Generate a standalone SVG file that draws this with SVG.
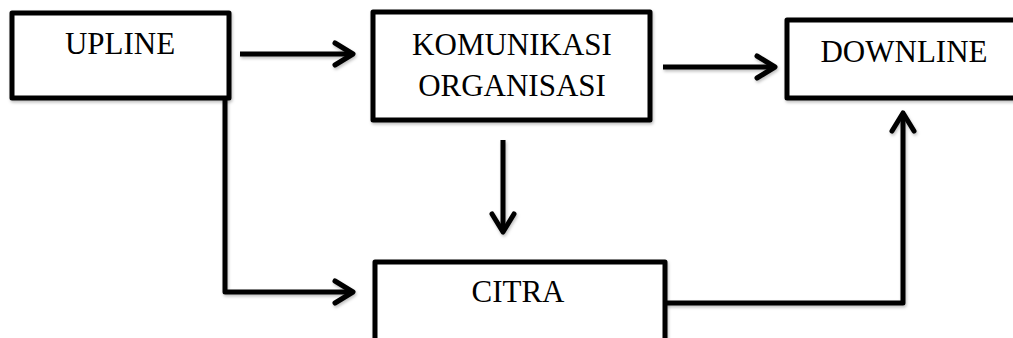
<svg xmlns="http://www.w3.org/2000/svg" width="1013" height="338" viewBox="0 0 1013 338">
  <style>
    .box { fill: #ffffff; stroke: #000000; stroke-width: 5; stroke-linejoin: round; }
    .lbl { font-family: "Liberation Serif", "Times New Roman", serif; font-size: 31px; fill: #000000; text-anchor: middle; }
    .conn { fill: none; stroke: #000000; stroke-width: 5; stroke-linejoin: round; }
  </style>
  <defs>
    <filter id="shadow" x="-10%" y="-10%" width="130%" height="140%">
      <feDropShadow dx="1" dy="2" stdDeviation="1.5" flood-color="#000000" flood-opacity="0.25"/>
    </filter>
    <marker id="chev" markerUnits="userSpaceOnUse" markerWidth="30" markerHeight="30" viewBox="-22 -15 30 30" refX="0" refY="0" orient="auto" overflow="visible">
      <path d="M-18,-11 L0,0 L-18,11" fill="none" stroke="#000000" stroke-width="5" stroke-linecap="round" stroke-linejoin="round"/>
    </marker>
  </defs>
  <rect width="1013" height="338" fill="#ffffff"/>

  <g id="connectors" filter="url(#shadow)">
    <path class="conn" d="M240,54 H353" marker-end="url(#chev)"/>
    <path class="conn" d="M663,67 H775" marker-end="url(#chev)"/>
    <path class="conn" d="M503,140 V232" marker-end="url(#chev)"/>
    <path class="conn" d="M225,98 V292 H353" marker-end="url(#chev)"/>
    <path class="conn" d="M665,303 H903 V113" marker-end="url(#chev)"/>
  </g>

  <g id="upline">
    <rect class="box" x="12" y="13" width="217" height="85" filter="url(#shadow)"/>
    <text class="lbl" x="120" y="54">UPLINE</text>
  </g>

  <g id="komunikasi">
    <rect class="box" x="373" y="12" width="277" height="108" filter="url(#shadow)"/>
    <text class="lbl" x="512" y="55">KOMUNIKASI</text>
    <text class="lbl" x="512" y="96">ORGANISASI</text>
  </g>

  <g id="downline">
    <rect class="box" x="787" y="20" width="232" height="78" filter="url(#shadow)"/>
    <text class="lbl" x="904" y="62">DOWNLINE</text>
  </g>

  <g id="citra">
    <rect class="box" x="375" y="262" width="290" height="90" filter="url(#shadow)"/>
    <text class="lbl" x="518" y="302">CITRA</text>
  </g>
</svg>
